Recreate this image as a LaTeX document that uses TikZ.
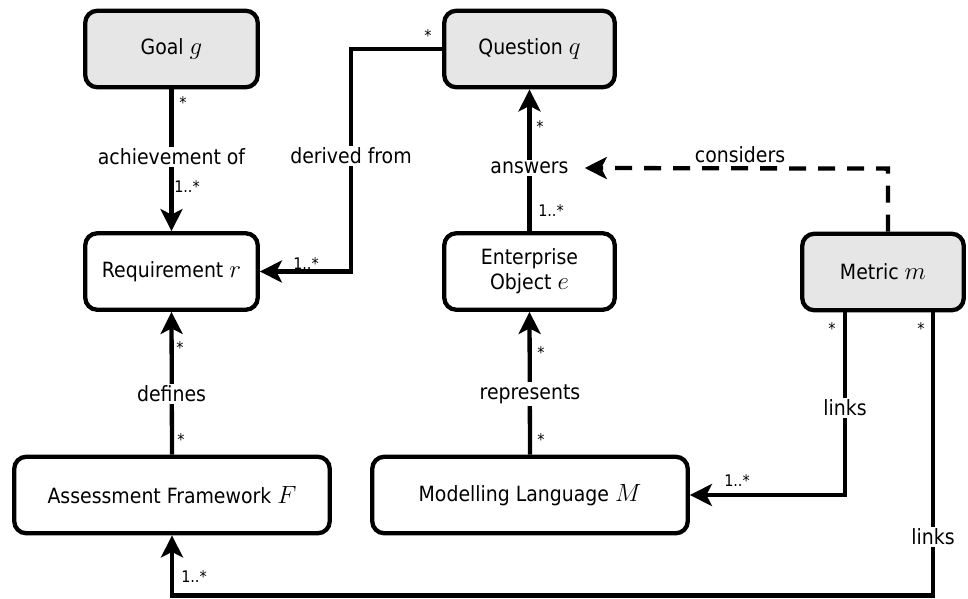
\documentclass[tikz,border=0pt]{standalone}
\usepackage{fontspec}
\setmainfont{DejaVu Sans Condensed}
\usetikzlibrary{arrows.meta}
\definecolor{boxgray}{HTML}{E6E6E6}
\newcommand{\mv}[1]{{\fontsize{24}{25}\selectfont$#1$}}
\begin{document}
\begin{tikzpicture}[x=1pt,y=-1pt,
  box/.style={draw, line width=4.3pt, rounded corners=12pt, minimum height=76.5pt,
    align=center, font=\fontsize{21}{25}\selectfont, inner sep=0pt},
  gbox/.style={box, fill=boxgray},
  conn/.style={line width=4.3pt, -{Stealth[length=22pt,width=22pt,inset=5.5pt]}},
  lab/.style={fill=white, inner sep=2pt, font=\fontsize{21}{25}\selectfont},
  mult/.style={inner sep=0pt, font=\fontsize{16}{18}\selectfont}]
\useasboundingbox (0,0) rectangle (968,598);

\node[gbox, minimum width=172.5pt] (G) at (171.5,49) {Goal \mv{g}};
\node[gbox, minimum width=170.5pt] (Q) at (529.5,49) {Question \mv{q}};
\node[box, minimum width=172.5pt] (R) at (171.5,271.5) {Requirement \mv{r}};
\node[box, minimum width=170.5pt] (E) at (529.5,271.5) {Enterprise\\Object \mv{e}};
\node[gbox, minimum width=161.5pt] (M) at (883,272) {Metric \mv{m}};
\node[box, minimum width=315.5pt] (F) at (172,495) {Assessment Framework \mv{F}};
\node[box, minimum width=315.5pt] (L) at (530,495) {Modelling Language \mv{M}};

% connectors
\draw[conn] (G.south) -- (R.north);
\draw[conn] (Q.west) -- ++(-91,0) |- (R.east);
\draw[conn] (E.north) -- (Q.south);
\draw[conn] (F.north) -- (R.south);
\draw[conn] (L.north) -- (E.south);
\draw[conn] ([xshift=-38pt]M.south) |- (L.east);
\draw[conn] ([xshift=50pt]M.south) -- ++(0,283) -| (F.south);

% line labels
\node[lab] at (171.5,157) {achievement of};
\node[lab] at (351,156) {derived from};
\node[lab] (ans) at (529.5,168) {answers};
\node[lab] at (171.5,394) {defines};
\node[lab] at (530,394) {represents};
\node[lab, inner xsep=0pt] at (845,408) {links};
\node[lab, inner xsep=0pt] at (933,537) {links};

% dashed
\coordinate (ct) at ([xshift=14pt]ans.east);
\draw[line width=4.3pt, dash pattern=on 17pt off 12pt, -{Stealth[length=22pt,width=22pt,inset=5.5pt]}]
  ([xshift=5pt]M.north) -- ++(0,-63) -- (ct);
\node[font=\fontsize{21}{25}\selectfont, inner sep=0pt] at (740,155) {considers};

% multiplicities
\node[mult] at (183,103) {*};
\node[mult] at (187,187) {1..*};
\node[mult] at (428,36) {*};
\node[mult] at (306,264) {1..*};
\node[mult] at (540,127) {*};
\node[mult] at (551,211) {1..*};
\node[mult] at (180,348) {*};
\node[mult] at (181,440) {*};
\node[mult] at (194,577) {1..*};
\node[mult] at (541,353) {*};
\node[mult] at (541,440) {*};
\node[mult] at (832,329) {*};
\node[mult] at (921,329) {*};
\node[mult] at (737,481) {1..*};
\end{tikzpicture}
\end{document}
